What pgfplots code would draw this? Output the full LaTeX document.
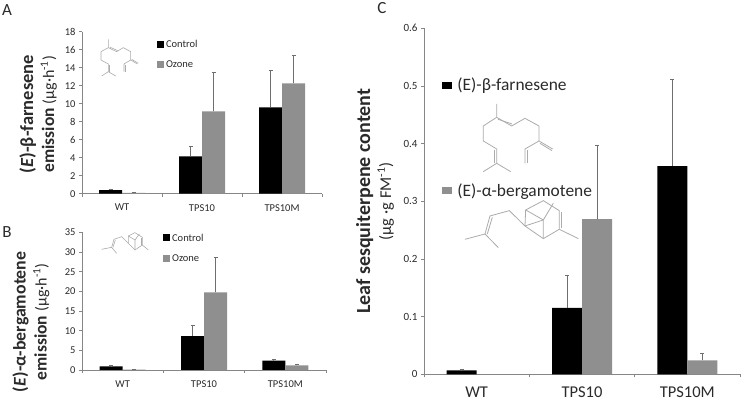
\documentclass[border=0pt]{standalone}
\usepackage{fontspec}
\setmainfont{Carlito}
\usepackage{pgfplots}
\pgfplotsset{compat=1.18}
\definecolor{barg}{HTML}{8F8F8F}
\definecolor{axg}{HTML}{868686}
\definecolor{errg}{HTML}{6E6E6E}
\definecolor{molg}{HTML}{ABABAB}
\definecolor{txt}{HTML}{2A2A2A}
\newcommand{\fs}[1]{\fontsize{#1}{#1}\selectfont}
\pgfplotsset{
  panel/.style={
    scale only axis, ybar=0pt, xmin=-0.5, xmax=2.5, ymin=0,
    axis x line*=bottom, axis y line*=left, axis line style={axg,-,line width=0.7pt},
    xtick={0,1,2}, xticklabels={WT,TPS10,TPS10M},
    minor xtick={-0.5,0.5,1.5,2.5},
    every major x tick/.style={draw=none},
    every minor x tick/.style={axg,line width=0.7pt},
    every major y tick/.style={axg,line width=0.7pt},
    tick align=outside, major tick length=3pt, minor tick length=3pt,
    /pgf/number format/assume math mode=true,
    /pgf/number format/fixed,
    scaled y ticks=false,
    legend cell align=left,
    legend image code/.code={\fill[##1,draw=none] (0pt,-3.2pt) rectangle (\sq,3.8pt);},
    enlarge x limits=false,
  },
  blackbar/.style={fill=black,draw=none,error bars/.cd,y dir=plus,y explicit,
     error bar style={errg,line width=0.7pt},error mark options={errg,line width=0.7pt,mark size=2pt,rotate=90}},
  graybar/.style={fill=barg,draw=none,error bars/.cd,y dir=plus,y explicit,
     error bar style={errg,line width=0.7pt},error mark options={errg,line width=0.7pt,mark size=2pt,rotate=90}},
}
\newcommand{\sq}{7pt}
\begin{document}
\begin{tikzpicture}[x=1pt,y=1pt]
\useasboundingbox (0,0) rectangle (741,403);

% Panel A
\begin{axis}[panel, at={(82pt,209.3pt)}, anchor=south west, width=240pt, height=162pt,
  ymax=18, ytick={0,2,...,18}, bar width=23pt,
  ticklabel style={font=\fs{10.5},text=txt}, xticklabel style={yshift=-4pt},
  ylabel={\textbf{\fs{18.5}(\textit{E})-β-farnesene}\\[3pt]\textbf{\fs{17.5}emission} \fs{16}(µg·h\textsuperscript{-1})},
  every axis y label/.style={at={(axis description cs:-0.183,0.49)},rotate=90,anchor=center,align=center,font=\fs{18},text=txt},
  legend style={anchor=north west,at={(axis description cs:0.31,0.955)},draw=none,fill=none,font=\fs{10.5},text=txt,row sep=8.6pt,inner sep=0pt,nodes={inner sep=1.4pt}},
]
\addplot[blackbar] coordinates {(0,0.40) +- (0,0.10) (1,4.15) +- (0,1.15) (2,9.60) +- (0,4.05)};
\addplot[graybar] coordinates {(0,0.08) +- (0,0.07) (1,9.15) +- (0,4.35) (2,12.25) +- (0,3.10)};
\legend{\hspace*{1pt}Control,\hspace*{1pt}Ozone}
\end{axis}

% Panel B
\begin{axis}[panel, at={(82pt,33pt)}, anchor=south west, width=244pt, height=137.7pt,
  ymax=35, ytick={0,5,...,35}, bar width=23pt,
  ticklabel style={font=\fs{10.5},text=txt}, xticklabel style={yshift=-4pt},
  ylabel={\textbf{\fs{17.8}(\textit{E})-α-bergamotene}\\[3pt]\textbf{\fs{17.5}emission} \fs{16}(µg·h\textsuperscript{-1})},
  every axis y label/.style={at={(axis description cs:-0.209,0.35)},rotate=90,anchor=center,align=center,font=\fs{18},text=txt},
  legend style={anchor=north west,at={(axis description cs:0.33,1.0)},draw=none,fill=none,font=\fs{10.5},text=txt,row sep=9.2pt,inner sep=0pt,nodes={inner sep=1.4pt}},
]
\addplot[blackbar] coordinates {(0,0.9) +- (0,0.2) (1,8.6) +- (0,2.7) (2,2.4) +- (0,0.3)};
\addplot[graybar] coordinates {(0,0.1) +- (0,0.1) (1,19.7) +- (0,8.9) (2,1.2) +- (0,0.3)};
\legend{\hspace*{1pt}Control,\hspace*{1pt}Ozone}
\end{axis}

% Panel C
\renewcommand{\sq}{10pt}
\begin{axis}[panel, at={(424pt,28.7pt)}, anchor=south west, width=316pt, height=346pt,
  ymax=0.6, ytick={0,0.1,...,0.6}, yticklabels={0,0.1,0.2,0.3,0.4,0.5,0.6}, bar width=30pt,
  yticklabel style={font=\fs{11},text=txt}, xticklabel style={font=\fs{16.5},text=txt,inner sep=0pt,yshift=-9.5pt},
  ylabel={\textbf{\fs{20}Leaf sesquiterpene content}\\[3pt]\fs{16.5}(µg ·g FM\textsuperscript{-1})},
  every axis y label/.style={at={(axis description cs:-0.155,0.5)},rotate=90,anchor=center,align=center,font=\fs{18},text=txt},
  legend style={anchor=north west,at={(axis description cs:0.056,0.862)},draw=none,fill=none,font=\fs{17.4},text=txt,row sep=87pt,inner sep=0pt,nodes={inner sep=2pt}},
]
\addplot[blackbar] coordinates {(0,0.007) +- (0,0.001) (1,0.115) +- (0,0.056) (2,0.361) +- (0,0.150)};
\addplot[graybar] coordinates {(1,0.269) +- (0,0.128) (2,0.024) +- (0,0.012)};
\legend{\hspace*{3.5pt}(E)-β-farnesene,\hspace*{3.5pt}(E)-α-bergamotene}
\end{axis}

% Panel letters
\node[anchor=center,font=\fs{17},text=txt] at (7,393) {A};
\node[anchor=center,font=\fs{17},text=txt] at (7,171) {B};
\node[anchor=center,font=\fs{17},text=txt] at (382,395) {C};

% Molecule sketches (decoration)
\begin{scope}[x=0.3333pt,y=-0.3333pt,shift={(0pt,403pt)},molg,line width=0.6pt]
 \draw (325,118)--(325,143)--(350,155)--(370,143)--(392,155)--(392,180)--(412,192);
 \draw (392,180)--(372,192)--(372,215);
 \draw (325,143)--(303,155)--(303,180)--(325,192)--(325,215)--(305,228);
 \draw (325,215)--(347,228);
 \draw (329,141)--(353,152); \draw (395,178)--(415,190); \draw (376,194)--(376,215); \draw (329,194)--(329,215);
\end{scope}
\begin{scope}[x=0.3333pt,y=-0.3333pt,shift={(0pt,193pt)},molg,line width=0.6pt]
 \draw (305,118)--(335,112)--(350,130);
 \draw (335,112)--(342,88)--(365,80)--(385,100);
 \draw (385,78)--(405,68)--(427,82)--(427,105)--(405,120)--(385,100)--(385,78);
 \draw (385,78)--(405,90)--(405,120); \draw (405,90)--(418,72); \draw (427,105)--(445,120);
 \draw (423,84)--(423,104); \draw (339,112)--(346,90);
\end{scope}
\begin{scope}[x=0.3333pt,y=-0.3333pt,shift={(350pt,403pt)},molg,line width=0.8pt]
 \draw (440,312)--(440,352)--(485,378)--(525,355)--(567,378)--(567,423)--(608,447);
 \draw (567,423)--(525,447)--(525,490);
 \draw (440,352)--(400,378)--(400,423)--(440,447)--(440,490)--(400,515);
 \draw (440,490)--(482,515);
 \draw (444,358)--(486,372); \draw (570,430)--(606,452); \draw (531,450)--(531,490); \draw (434,450)--(434,490);
 \draw (345,718)--(405,702)--(445,743);
 \draw (405,702)--(420,648)--(478,632)--(525,678);
 \draw (527,630)--(580,602)--(628,632)--(628,688)--(580,716)--(525,678)--(527,630);
 \draw (527,630)--(580,660)--(580,716); \draw (580,660)--(525,678); \draw (580,660)--(610,610);
 \draw (628,688)--(685,716); \draw (634,636)--(634,684); \draw (412,702)--(427,652);
\end{scope}
\end{tikzpicture}
\end{document}
